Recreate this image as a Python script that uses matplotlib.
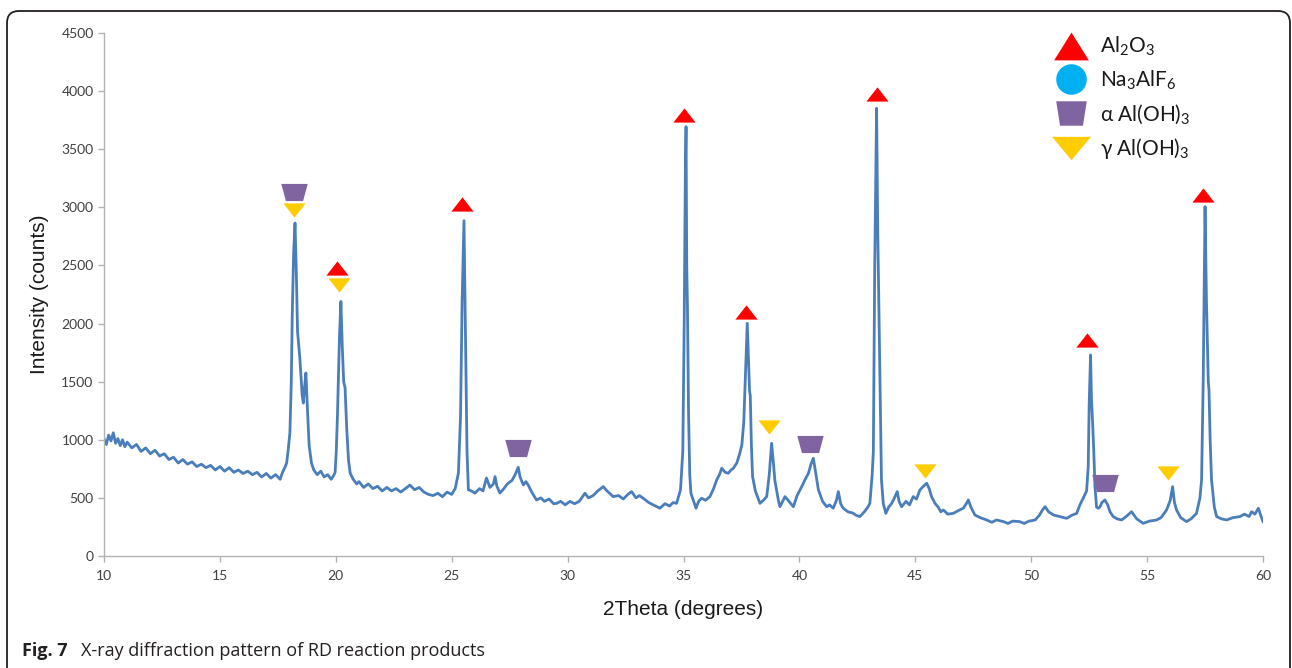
import matplotlib.pyplot as plt
import numpy as np
from matplotlib.lines import Line2D
from matplotlib.patches import FancyBboxPatch
from matplotlib.path import Path
from matplotlib.transforms import IdentityTransform

# XRD pattern
two_theta = [
    10.0, 10.1, 10.2, 10.3, 10.4, 10.5, 10.6, 10.7, 10.8, 10.9, 11.0, 11.2, 11.4, 11.6, 11.8,
    12.0, 12.2, 12.4, 12.6, 12.8, 13.0, 13.2, 13.4, 13.6, 13.8, 14.0, 14.2, 14.4, 14.6, 14.8,
    15.0, 15.2, 15.4, 15.6, 15.8, 16.0, 16.2, 16.4, 16.6, 16.8, 17.0, 17.2, 17.4, 17.6, 17.7,
    17.8, 17.88, 17.95, 18.02, 18.08, 18.12, 18.18, 18.24, 18.29, 18.35, 18.45, 18.55, 18.6,
    18.65, 18.71, 18.78, 18.85, 18.95, 19.05, 19.2, 19.35, 19.5, 19.65, 19.8, 19.9, 19.97,
    20.02, 20.07, 20.12, 20.16, 20.22, 20.28, 20.34, 20.4, 20.47, 20.55, 20.62, 20.75, 20.9,
    21.0, 21.2, 21.4, 21.6, 21.8, 22.0, 22.2, 22.4, 22.6, 22.8, 23.0, 23.2, 23.4, 23.6, 23.8,
    24.0, 24.2, 24.4, 24.6, 24.8, 25.0, 25.15, 25.29, 25.38, 25.45, 25.53, 25.6, 25.66, 25.72,
    25.85, 26.0, 26.2, 26.35, 26.5, 26.65, 26.8, 26.87, 26.95, 27.08, 27.25, 27.4, 27.6, 27.73,
    27.87, 27.95, 28.09, 28.2, 28.3, 28.45, 28.66, 28.85, 29.0, 29.2, 29.4, 29.53, 29.7, 29.9,
    30.1, 30.3, 30.5, 30.75, 30.9, 31.1, 31.3, 31.54, 31.7, 31.97, 32.2, 32.4, 32.6, 32.76,
    32.95, 33.1, 33.26, 33.5, 33.7, 33.98, 34.2, 34.4, 34.55, 34.7, 34.87, 34.97, 35.03, 35.08,
    35.11, 35.14, 35.17, 35.22, 35.27, 35.32, 35.54, 35.65, 35.78, 35.95, 36.14, 36.3, 36.43,
    36.55, 36.65, 36.8, 36.93, 37.05, 37.15, 37.3, 37.43, 37.52, 37.6, 37.68, 37.75, 37.8,
    37.85, 37.88, 37.93, 37.98, 38.1, 38.3, 38.45, 38.59, 38.7, 38.8, 38.88, 38.94, 39.09,
    39.16, 39.38, 39.55, 39.74, 39.9, 40.1, 40.25, 40.39, 40.5, 40.6, 40.7, 40.82, 41.0, 41.18,
    41.3, 41.46, 41.6, 41.68, 41.78, 41.89, 42.1, 42.3, 42.45, 42.61, 42.8, 42.95, 43.04, 43.14,
    43.19, 43.25, 43.33, 43.38, 43.43, 43.48, 43.54, 43.62, 43.73, 43.85, 43.98, 44.1, 44.22,
    44.3, 44.41, 44.6, 44.75, 44.91, 45.05, 45.2, 45.35, 45.49, 45.6, 45.7, 45.85, 45.99, 46.1,
    46.21, 46.4, 46.64, 46.85, 47.07, 47.2, 47.29, 47.4, 47.57, 47.8, 48.08, 48.3, 48.5, 48.8,
    49.0, 49.2, 49.5, 49.7, 49.9, 50.17, 50.35, 50.5, 50.6, 50.75, 50.96, 51.24, 51.53, 51.75,
    51.96, 52.1, 52.25, 52.39, 52.46, 52.5, 52.56, 52.6, 52.65, 52.7, 52.75, 52.82, 52.9, 52.97,
    53.05, 53.18, 53.3, 53.4, 53.54, 53.7, 53.9, 54.1, 54.33, 54.55, 54.83, 55.1, 55.41, 55.6,
    55.84, 56.0, 56.1, 56.18, 56.27, 56.45, 56.7, 56.9, 57.13, 57.28, 57.35, 57.42, 57.5, 57.56,
    57.61, 57.64, 57.67, 57.72, 57.78, 57.9, 58.0, 58.2, 58.43, 58.7, 59.0, 59.2, 59.4, 59.51,
    59.65, 59.8, 59.9, 60.0,
]
counts = [
    1010, 960, 1040, 990, 1060, 970, 1010, 950, 1000, 940, 980, 930, 960, 900, 930,
    880, 910, 860, 880, 830, 850, 800, 830, 790, 810, 770, 790, 760, 780, 740,
    770, 730, 760, 720, 740, 710, 730, 700, 720, 680, 710, 670, 700, 660, 720,
    760, 800, 920, 1060, 1500, 2060, 2600, 2865, 2500, 1930, 1700, 1380, 1316,
    1450, 1575, 1250, 950, 800, 740, 700, 730, 680, 700, 660, 690, 720,
    900, 1200, 1600, 1900, 2190, 1800, 1500, 1446, 1100, 820, 714, 660, 620,
    640, 590, 620, 580, 600, 560, 590, 560, 580, 550, 580, 610, 570, 590, 550,
    530, 520, 540, 510, 550, 530, 580, 714, 1200, 2200, 2885, 1800, 900, 570,
    560, 540, 580, 560, 671, 590, 620, 683, 600, 542, 580, 620, 650, 697,
    763, 680, 611, 640, 611, 550, 482, 500, 470, 490, 450, 453, 470, 440,
    470, 450, 470, 540, 500, 520, 560, 597, 560, 511, 520, 490, 530, 554,
    500, 520, 497, 460, 440, 411, 450, 430, 460, 453, 568, 900, 2000, 3300,
    3694, 2500, 2150, 1200, 700, 540, 411, 470, 497, 480, 511, 580, 654,
    700, 755, 720, 712, 740, 755, 800, 884, 960, 1150, 1600, 2002, 1700,
    1420, 1380, 950, 683, 560, 453, 480, 511, 700, 970, 800, 654, 482,
    424, 511, 470, 424, 520, 597, 660, 712, 790, 841, 720, 568, 470, 424,
    440, 411, 480, 554, 450, 411, 380, 370, 350, 339, 380, 420, 453, 700,
    900, 2500, 3852, 2800, 2146, 1500, 654, 450, 367, 420, 453, 500, 554,
    470, 424, 470, 440, 511, 490, 568, 600, 626, 580, 511, 453, 420, 380,
    396, 360, 367, 390, 411, 450, 482, 420, 353, 330, 310, 290, 310, 296,
    280, 300, 296, 280, 300, 310, 350, 400, 424, 380, 353, 339, 324, 350,
    367, 440, 500, 560, 768, 1300, 1730, 1350, 1142, 900, 600, 420, 411, 424,
    460, 482, 440, 380, 339, 320, 310, 340, 381, 320, 281, 300, 310, 330,
    396, 480, 597, 460, 396, 330, 296, 320, 367, 500, 654, 1500, 3006, 2200,
    1744, 1500, 1428, 1000, 654, 420, 339, 320, 310, 330, 339, 360, 340, 381,
    360, 411, 350, 296,
]

# phase markers (2theta, intensity) placed above the peaks
al2o3_x = [20.05, 25.43, 35.02, 37.7, 43.33, 52.39, 57.39]
al2o3_y = [2478, 3029, 3795, 2100, 3976, 1859, 3106]
alpha_x = [18.2, 27.87, 40.46, 53.18]
alpha_y = [3132, 929, 964, 632]
gamma_x = [18.2, 20.14, 38.7, 45.44, 55.91]
gamma_y = [2977, 2332, 1110, 731, 714]

legend_labels = [r'Al$\mathregular{_2}$O$\mathregular{_3}$',
                 r'Na$\mathregular{_3}$AlF$\mathregular{_6}$',
                 r'α Al(OH)$\mathregular{_3}$',
                 r'γ Al(OH)$\mathregular{_3}$']

plt.rcParams['font.family'] = ['Liberation Sans', 'DejaVu Sans']
plt.rcParams['mathtext.fontset'] = 'custom'
plt.rcParams['mathtext.rm'] = 'Lato'


def shape(pts):
    codes = [Path.MOVETO] + [Path.LINETO] * (len(pts) - 1) + [Path.CLOSEPOLY]
    return Path(list(pts) + [pts[0]], codes)


tri_up = shape([(-1, -0.64), (1, -0.64), (0, 0.64)])
tri_down = shape([(-1, 0.64), (1, 0.64), (0, -0.64)])
trap = shape([(-1, 0.65), (1, 0.65), (0.65, -0.65), (-0.65, -0.65)])

red = '#ff0000'
blue = '#00b0f0'
purple = '#8064a2'
yellow = '#ffcc00'

fig = plt.figure(figsize=(12.92, 6.68), dpi=100)
ax = fig.add_axes([104 / 1292, 1 - 556 / 668, 1159 / 1292, 523 / 668])

ax.plot(two_theta, counts, color='#4a7ebb', lw=2.0, zorder=2)
ax.plot(al2o3_x, al2o3_y, ls='none', marker=tri_up, ms=16, color=red, mew=0, zorder=3)
ax.plot(alpha_x, alpha_y, ls='none', marker=trap, ms=19, color=purple, mew=0, zorder=3)
ax.plot(gamma_x, gamma_y, ls='none', marker=tri_down, ms=16, color=yellow, mew=0, zorder=3)

ax.set_xlim(10, 60)
ax.set_ylim(0, 4500)
ax.set_xticks(np.arange(10, 61, 5))
ax.set_yticks(np.arange(0, 4501, 500))
for s in ['top', 'right']:
    ax.spines[s].set_visible(False)
for s in ['left', 'bottom']:
    ax.spines[s].set_color('#b3b3b3')
    ax.spines[s].set_linewidth(1.0)
ax.tick_params(axis='both', length=4, width=1.0, color='#b3b3b3',
               labelcolor='#404040', labelsize=10)
for lab in ax.get_xticklabels() + ax.get_yticklabels():
    lab.set_family(['Lato', 'DejaVu Sans'])
ax.tick_params(axis='x', pad=6)

ax.set_xlabel('2Theta (degrees)', fontsize=15, color='#1a1a1a', labelpad=13)
ax.set_ylabel('Intensity (counts)', fontsize=15, color='#1a1a1a', labelpad=9)

handles = [
    Line2D([], [], ls='none', marker=shape([(-1, -0.8), (1, -0.8), (0, 0.8)]),
           ms=25, color=red, mew=0),
    Line2D([], [], ls='none', marker='o', ms=22, color=blue, mew=0),
    Line2D([], [], ls='none', marker=shape([(-1, 0.8), (1, 0.8), (0.75, -0.8), (-0.75, -0.8)]),
           ms=22, color=purple, mew=0),
    Line2D([], [], ls='none', marker=shape([(-1, 0.6), (1, 0.6), (0, -0.6)]),
           ms=28, color=yellow, mew=0),
]
leg = fig.legend(handles, legend_labels, loc='upper left',
                 bbox_to_anchor=(1054 / 1292, 1 - 35 / 668), frameon=False,
                 prop={'family': ['Lato', 'DejaVu Sans'], 'size': 15},
                 handlelength=1.6, handletextpad=0.6, labelspacing=0.5,
                 borderpad=0, borderaxespad=0)
for t in leg.get_texts():
    t.set_color('#1a1a1a')

# caption and rounded frame
cap_y = 1 - 651 / 668
fig.text(22 / 1292, cap_y, 'Fig. 7', fontsize=13, fontweight='bold',
         family=['Open Sans', 'DejaVu Sans'], color='#231f20', va='center')
fig.text(81 / 1292, cap_y, 'X-ray diffraction pattern of RD reaction products',
         fontsize=13, family=['Open Sans', 'DejaVu Sans'], color='#231f20', va='center')
frame = FancyBboxPatch((7, -30), 1283, 668 - 11 + 30,
                       boxstyle='round,pad=0,rounding_size=12',
                       transform=IdentityTransform(), fill=False,
                       ec='#231f20', lw=1.3)
fig.patches.append(frame)

fig.savefig('out.png', dpi=100)
